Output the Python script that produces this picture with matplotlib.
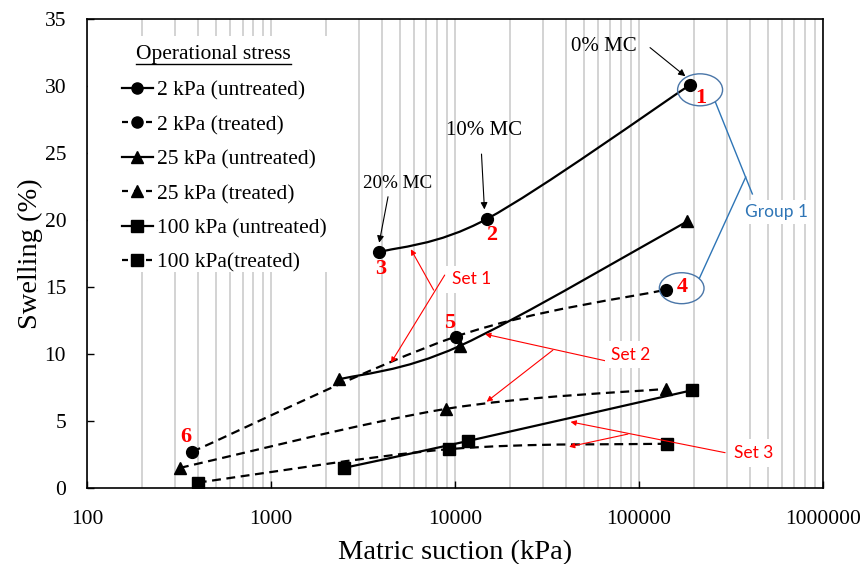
import numpy as np
import matplotlib
matplotlib.use('Agg')
import matplotlib.pyplot as plt
from matplotlib.path import Path
from matplotlib.patches import PathPatch, Ellipse, Rectangle
from matplotlib.lines import Line2D
from matplotlib.ticker import FixedLocator, NullFormatter

# ---------------- data ----------------
series_labels = ['2 kPa (untreated)', '2 kPa (treated)', '25 kPa (untreated)',
                 '25 kPa (treated)', '100 kPa (untreated)', '100 kPa(treated)']
suction_2_untreated = [3880, 15000, 190000]
swell_2_untreated = [17.6, 20.1, 30.1]
suction_2_treated = [372, 10100, 140000]
swell_2_treated = [2.7, 11.3, 14.8]
suction_25_untreated = [2340, 10600, 183000]
swell_25_untreated = [8.1, 10.6, 19.9]
suction_25_treated = [320, 8900, 141000]
swell_25_treated = [1.5, 5.9, 7.4]
suction_100_untreated = [2490, 11700, 195000]
swell_100_untreated = [1.5, 3.5, 7.3]
suction_100_treated = [400, 9300, 142000]
swell_100_treated = [0.4, 2.9, 3.3]

x_ticks = [100, 1000, 10000, 100000, 1000000]
x_tick_labels = ['100', '1000', '10000', '100000', '1000000']
y_ticks = [0, 5, 10, 15, 20, 25, 30, 35]
y_tick_labels = ['0', '5', '10', '15', '20', '25', '30', '35']

# ---------------- styling ----------------
SERIF = 'Liberation Serif'
SANS = 'Lato'
RED = '#FF0000'
BLUE_TXT = '#2E75B6'
BLUE_ELL = '#4A76A8'
DASH = (0, (4, 2.5))
LEG_DASH = (0, (2.7, 2.7))

series = [
    (suction_2_untreated, swell_2_untreated, 'o', '-', '-'),
    (suction_2_treated, swell_2_treated, 'o', DASH, LEG_DASH),
    (suction_25_untreated, swell_25_untreated, '^', '-', '-'),
    (suction_25_treated, swell_25_treated, '^', DASH, LEG_DASH),
    (suction_100_untreated, swell_100_untreated, 's', '-', '-'),
    (suction_100_treated, swell_100_treated, 's', DASH, LEG_DASH),
]
MS = 8.5


def smooth_path(xs, ys):
    """Excel-like smoothed line: cubic Bezier through the points in (log x, y)."""
    P = np.column_stack([np.log10(np.asarray(xs, float)), np.asarray(ys, float)])
    n = len(P)
    verts = [P[0]]
    codes = [Path.MOVETO]
    for i in range(n - 1):
        p_prev = P[i - 1] if i > 0 else P[i]
        p_next2 = P[i + 2] if i + 2 < n else P[i + 1]
        c1 = P[i] + (P[i + 1] - p_prev) / 6.0
        c2 = P[i + 1] - (p_next2 - P[i]) / 6.0
        verts += [c1, c2, P[i + 1]]
        codes += [Path.CURVE4] * 3
    verts = np.array(verts)
    verts[:, 0] = 10 ** verts[:, 0]
    return Path(verts, codes)


fig = plt.figure(figsize=(8.67, 5.64), dpi=100)
ax = fig.add_axes([0.10035, 0.13475, 0.8489, 0.83156])
ax.set_xscale('log')
ax.set_xlim(100, 1000000)
ax.set_ylim(0, 35)

# grid (vertical only, all decades + minor)
ax.set_axisbelow(True)
ax.xaxis.set_major_locator(FixedLocator(x_ticks))
minor = [m * d for d in [100, 1000, 10000, 100000] for m in range(2, 10)]
ax.xaxis.set_minor_locator(FixedLocator(minor))
ax.xaxis.set_minor_formatter(NullFormatter())
ax.set_xticklabels(x_tick_labels)
ax.grid(True, which='both', axis='x', color='#C8C8C8', lw=1.1)
ax.yaxis.grid(False)
ax.set_yticks(y_ticks)
ax.set_yticklabels(y_tick_labels)

ax.tick_params(axis='x', which='major', direction='in', length=5, width=1,
               pad=16, labelsize=15.5, top=False)
ax.tick_params(axis='x', which='minor', length=0)
ax.tick_params(axis='y', direction='in', length=5, width=1, pad=15,
               labelsize=15.5, right=False)
for lab in ax.get_xticklabels() + ax.get_yticklabels():
    lab.set_fontfamily(SERIF)
for sp in ax.spines.values():
    sp.set_linewidth(1.2)
    sp.set_color('black')

ax.set_xlabel('Matric suction (kPa)', fontfamily=SERIF, fontsize=20.5, labelpad=8)
ax.set_ylabel('Swelling (%)', fontfamily=SERIF, fontsize=20.5, labelpad=1)

# white area behind legend
ax.add_patch(Rectangle((0.0015, 0.46), 0.338, 0.503, transform=ax.transAxes,
                       facecolor='white', edgecolor='none', zorder=1))

# lines and markers
handles = []
for (xs, ys, mk, ls, lls), lab in zip(series, series_labels):
    ax.add_patch(PathPatch(smooth_path(xs, ys), fill=False, edgecolor='black',
                           lw=1.6, linestyle=ls, capstyle='butt', zorder=3))
    ax.plot(xs, ys, linestyle='none', marker=mk, ms=MS, color='black', zorder=4)
    handles.append(Line2D([], [], color='black', lw=1.6, linestyle=lls,
                          dash_capstyle='butt', marker=mk, ms=MS - 0.5))

leg = ax.legend(handles, series_labels, loc='upper left',
                bbox_to_anchor=(0.047, 0.869), frameon=False,
                prop={'family': SERIF, 'size': 15.5}, handlelength=1.45,
                handletextpad=0.2, labelspacing=0.67, borderpad=0,
                borderaxespad=0, numpoints=1)
leg.set_zorder(6)

title = ax.text(0.1716, 0.925, 'Operational stress', transform=ax.transAxes,
                ha='center', va='center', fontfamily=SERIF, fontsize=15.5,
                zorder=6)
fig.canvas.draw()
bb = title.get_window_extent().transformed(ax.transAxes.inverted())
ax.plot([bb.x0, bb.x1], [0.9045, 0.9045], transform=ax.transAxes, color='black',
        lw=1.0, zorder=6)

# moisture content annotations
mc_texts = [('0% MC', (0.702, 0.941), (0.765, 0.939), (0.813, 0.878), 15),
            ('10% MC', (0.539, 0.763), (0.536, 0.712), (0.540, 0.594), 15),
            ('20% MC', (0.422, 0.650), (0.409, 0.621), (0.397, 0.523), 13.8)]
for txt, tpos, tail, head, fs in mc_texts:
    ax.text(*tpos, txt, transform=ax.transAxes, ha='center', va='center',
            fontfamily=SERIF, fontsize=fs, zorder=6)
    ax.annotate('', xy=head, xytext=tail, xycoords='axes fraction',
                textcoords='axes fraction',
                arrowprops=dict(arrowstyle='-|>', color='black', lw=0.8,
                                mutation_scale=10, shrinkA=0, shrinkB=0),
                zorder=6)

# red point numbers
num_labels = [('1', (0.834, 0.831)), ('2', (0.550, 0.539)), ('3', (0.399, 0.466)),
              ('4', (0.809, 0.429)), ('5', (0.493, 0.351)), ('6', (0.134, 0.108))]
for txt, pos in num_labels:
    ax.text(*pos, txt, transform=ax.transAxes, ha='center', va='center',
            fontfamily=SERIF, fontsize=16, fontweight='bold', color=RED, zorder=7)

# Group 1 ellipses and connector
for c, w, h in [((0.833, 0.849), 0.0611, 0.0682), ((0.808, 0.426), 0.0607, 0.066)]:
    ax.add_patch(Ellipse(c, w, h, transform=ax.transAxes, fill=False,
                         edgecolor=BLUE_ELL, lw=1.0, zorder=6))
ax.plot([0.854, 0.904], [0.822, 0.627], transform=ax.transAxes, color=BLUE_TXT,
        lw=1.0, zorder=6)
ax.plot([0.832, 0.895], [0.447, 0.663], transform=ax.transAxes, color=BLUE_TXT,
        lw=1.0, zorder=6)
ax.text(0.937, 0.588, 'Group 1', transform=ax.transAxes, ha='center', va='center',
        fontfamily=SANS, fontsize=12.5, color=BLUE_TXT, zorder=7,
        bbox=dict(facecolor='white', edgecolor='none', pad=3))

# Set annotations
sets = [('Set 1', (0.522, 0.445), [((0.486, 0.454), (0.413, 0.267)),
                                   ((0.471, 0.422), (0.440, 0.509))]),
        ('Set 2', (0.738, 0.284), [((0.705, 0.271), (0.541, 0.328)),
                                   ((0.633, 0.294), (0.543, 0.184))]),
        ('Set 3', (0.906, 0.0746), [((0.867, 0.0753), (0.657, 0.141)),
                                    ((0.735, 0.115), (0.655, 0.088))])]
for txt, pos, arrows in sets:
    ax.text(*pos, txt, transform=ax.transAxes, ha='center', va='center',
            fontfamily=SANS, fontsize=12.5, color=RED, zorder=7,
            bbox=dict(facecolor='white', edgecolor='none', pad=4))
    for tail, head in arrows:
        ax.annotate('', xy=head, xytext=tail, xycoords='axes fraction',
                    textcoords='axes fraction',
                    arrowprops=dict(arrowstyle='-|>', color=RED, lw=0.8,
                                    mutation_scale=8, shrinkA=0, shrinkB=0),
                    zorder=6)

fig.savefig('out.png', dpi=100)
